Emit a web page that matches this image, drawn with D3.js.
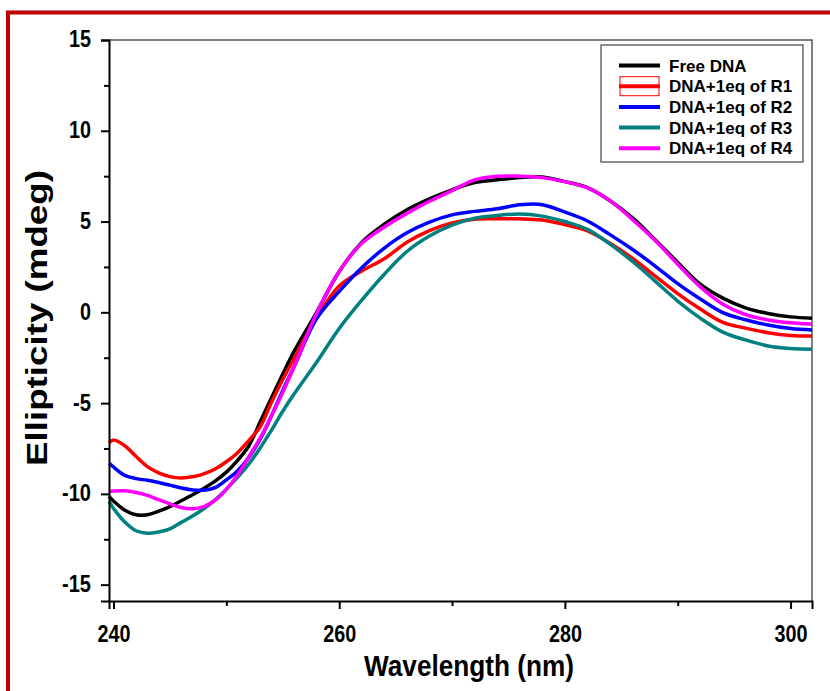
<!DOCTYPE html>
<html>
<head>
<meta charset="utf-8">
<script src="https://cdn.jsdelivr.net/npm/d3@7"></script>
<style>
  body { margin: 0; background: #fff; }
  svg { display: block; font-family: Arial, "Liberation Sans", sans-serif; }
</style>
</head>
<body>
<div id="chart"></div>
<script>
// CD spectra: wavelength (nm) vs ellipticity (mdeg)
const wavelengths = [239.6, 240, 241, 242, 243, 244, 245, 246, 247, 248, 249, 250, 251, 252, 253, 254, 255, 256,
    258, 260, 262, 264, 266, 268, 270, 272, 274, 276, 278, 280, 282, 284, 286, 288, 290, 292, 294, 296, 298, 300, 301.9];

const freeDNA = [-10.14, -10.4, -10.9, -11.15, -11.15, -10.95, -10.7, -10.38, -10.05, -9.7, -9.3, -8.8, -8.15, -7.35, -6.03, -4.7, -3.4, -2.15,
    0.0, 2.25, 3.85, 4.85, 5.65, 6.25, 6.75, 7.15, 7.3, 7.42, 7.45, 7.2, 6.87, 6.15, 5.2, 4.0, 2.75, 1.55, 0.78, 0.25, -0.06, -0.25, -0.32];
const r1 = [-7.19, -7.03, -7.35, -7.94, -8.5, -8.84, -9.05, -9.12, -9.06, -8.9, -8.63, -8.23, -7.73, -7.05, -6.3, -4.95, -3.7, -2.55,
    -0.3, 1.45, 2.28, 2.95, 3.86, 4.5, 4.93, 5.13, 5.15, 5.15, 5.08, 4.83, 4.48, 3.8, 2.97, 2.0, 1.03, 0.18, -0.55, -0.87, -1.12, -1.27, -1.3];
const r2 = [-8.3, -8.52, -8.98, -9.16, -9.25, -9.37, -9.52, -9.68, -9.78, -9.8, -9.66, -9.23, -8.72, -7.98, -6.99, -5.7, -4.3, -3.0,
    -0.35, 1.15, 2.46, 3.54, 4.38, 4.97, 5.37, 5.56, 5.7, 5.92, 5.93, 5.52, 5.03, 4.28, 3.46, 2.55, 1.58, 0.73, -0.02, -0.41, -0.7, -0.89, -0.97];
const r3 = [-10.41, -10.8, -11.55, -12.03, -12.17, -12.1, -11.93, -11.57, -11.22, -10.82, -10.33, -9.74, -9.09, -8.35, -7.47, -6.49, -5.45, -4.5,
    -2.75, -0.89, 0.67, 2.1, 3.35, 4.2, 4.8, 5.18, 5.33, 5.42, 5.3, 5.0, 4.57, 3.76, 2.8, 1.72, 0.62, -0.32, -1.09, -1.52, -1.85, -1.99, -2.03];
const r4 = [-9.86, -9.84, -9.83, -9.92, -10.08, -10.32, -10.55, -10.75, -10.82, -10.7, -10.35, -9.75, -8.95, -7.95, -6.92, -5.7, -4.4, -3.0,
    -0.05, 2.25, 3.8, 4.7, 5.45, 6.12, 6.7, 7.3, 7.5, 7.5, 7.42, 7.2, 6.85, 6.15, 5.1, 3.95, 2.65, 1.4, 0.45, -0.12, -0.42, -0.58, -0.65];

const seriesNames = ['Free DNA', 'DNA+1eq of R1', 'DNA+1eq of R2', 'DNA+1eq of R3', 'DNA+1eq of R4'];
const seriesValues = [freeDNA, r1, r2, r3, r4];
const seriesColors = ['#000000', '#ff0000', '#0000ff', '#008080', '#ff00ff'];

const xTicks = [240, 260, 280, 300];
const xMinorTicks = [250, 270, 290];
const yTicks = [-15, -10, -5, 0, 5, 10, 15];
const yMinorTicks = [-12.5, -7.5, -2.5, 2.5, 7.5, 12.5];

// Layout
const W = 830, H = 691;
const plot = { left: 109, top: 40, right: 812, bottom: 601 };

const svg = d3.select('#chart')
    .append('svg')
    .attr('width', W)
    .attr('height', H);

// Red outer frame (only top and left edges fall inside the picture)
svg.append('rect')
    .attr('x', 8).attr('y', 12.5)
    .attr('width', 1000).attr('height', 1000)
    .attr('fill', 'none')
    .attr('stroke', '#c00000')
    .attr('stroke-width', 4);

const x = d3.scaleLinear().domain([239.6, 301.9]).range([plot.left, plot.right]);
const y = d3.scaleLinear().domain([-15.9, 15]).range([plot.bottom, plot.top]);

// Thin box on top and right
svg.append('path')
    .attr('d', `M${plot.left},${plot.top}H${plot.right}V${plot.bottom}`)
    .attr('fill', 'none')
    .attr('stroke', '#555')
    .attr('stroke-width', 1.5);

// Curves
const line = d3.line()
    .x((d, i) => x(wavelengths[i]))
    .y(d => y(d))
    .curve(d3.curveCatmullRom.alpha(0.5));

const curves = svg.append('g').attr('class', 'curves');
seriesValues.forEach((vals, i) => {
    curves.append('path')
        .attr('d', line(vals))
        .attr('fill', 'none')
        .attr('stroke', seriesColors[i])
        .attr('stroke-width', 3.5)
        .attr('stroke-linejoin', 'round');
});

// Narrow bold digits, like the original export
const fitText = sel => sel.each(function () {
    const t = this.textContent;
    const len = t.split('').reduce((s, c) => s + (c === '-' ? 7 : 11), 0);
    d3.select(this).attr('textLength', len).attr('lengthAdjust', 'spacingAndGlyphs');
});

// X axis
const xAxis = svg.append('g')
    .attr('transform', `translate(0,${plot.bottom})`)
    .call(d3.axisBottom(x).tickValues(xTicks).tickSize(8).tickFormat(d => String(d)));
svg.append('g')
    .attr('transform', `translate(0,${plot.bottom})`)
    .call(d3.axisBottom(x).tickValues(xMinorTicks).tickSize(5).tickFormat(''))
    .call(g => g.select('.domain').remove());

// Y axis
const yAxis = svg.append('g')
    .attr('transform', `translate(${plot.left},0)`)
    .call(d3.axisLeft(y).tickValues(yTicks).tickSize(8).tickFormat(d => String(d)));
svg.append('g')
    .attr('transform', `translate(${plot.left},0)`)
    .call(d3.axisLeft(y).tickValues(yMinorTicks).tickSize(5).tickFormat(''))
    .call(g => g.select('.domain').remove());

svg.selectAll('.domain').attr('stroke', '#000').attr('stroke-width', 2);
svg.selectAll('.tick line').attr('stroke', '#000').attr('stroke-width', 2);

xAxis.selectAll('.tick text')
    .attr('dy', null).attr('y', 41)
    .style('font-size', '23px').style('font-weight', 'bold').attr('fill', '#000')
    .call(fitText);
yAxis.selectAll('.tick text')
    .attr('x', -18).attr('dy', '0.3em')
    .style('font-size', '23px').style('font-weight', 'bold').attr('fill', '#000')
    .call(fitText);

// Axis titles
svg.append('text')
    .attr('x', 469).attr('y', 676)
    .attr('text-anchor', 'middle')
    .attr('textLength', 210).attr('lengthAdjust', 'spacingAndGlyphs')
    .style('font-size', '30px').style('font-weight', 'bold')
    .text('Wavelength (nm)');

svg.append('text')
    .attr('transform', 'translate(47,318) rotate(-90)')
    .attr('text-anchor', 'middle')
    .attr('textLength', 296).attr('lengthAdjust', 'spacingAndGlyphs')
    .style('font-size', '29px').style('font-weight', 'bold')
    .text('Ellipticity (mdeg)');

// Legend
const legend = svg.append('g').attr('class', 'legend');
legend.append('rect')
    .attr('x', 601).attr('y', 45)
    .attr('width', 202).attr('height', 117)
    .attr('fill', '#fff')
    .attr('stroke', '#444')
    .attr('stroke-width', 1.2);

seriesNames.forEach((name, i) => {
    const ly = 65.5 + i * 20.7;
    const row = legend.append('g');
    if (i === 1) {
        row.append('rect')
            .attr('x', 620).attr('y', ly - 9.5)
            .attr('width', 39).attr('height', 19)
            .attr('fill', 'none')
            .attr('stroke', '#ff0000')
            .attr('stroke-width', 1);
    }
    row.append('line')
        .attr('x1', 619).attr('x2', 660)
        .attr('y1', ly).attr('y2', ly)
        .attr('stroke', seriesColors[i])
        .attr('stroke-width', 4);
    row.append('text')
        .attr('x', 669).attr('y', ly)
        .attr('dy', '0.36em')
        .style('font-size', '17px').style('font-weight', 'bold')
        .text(name);
});
</script>
</body>
</html>
